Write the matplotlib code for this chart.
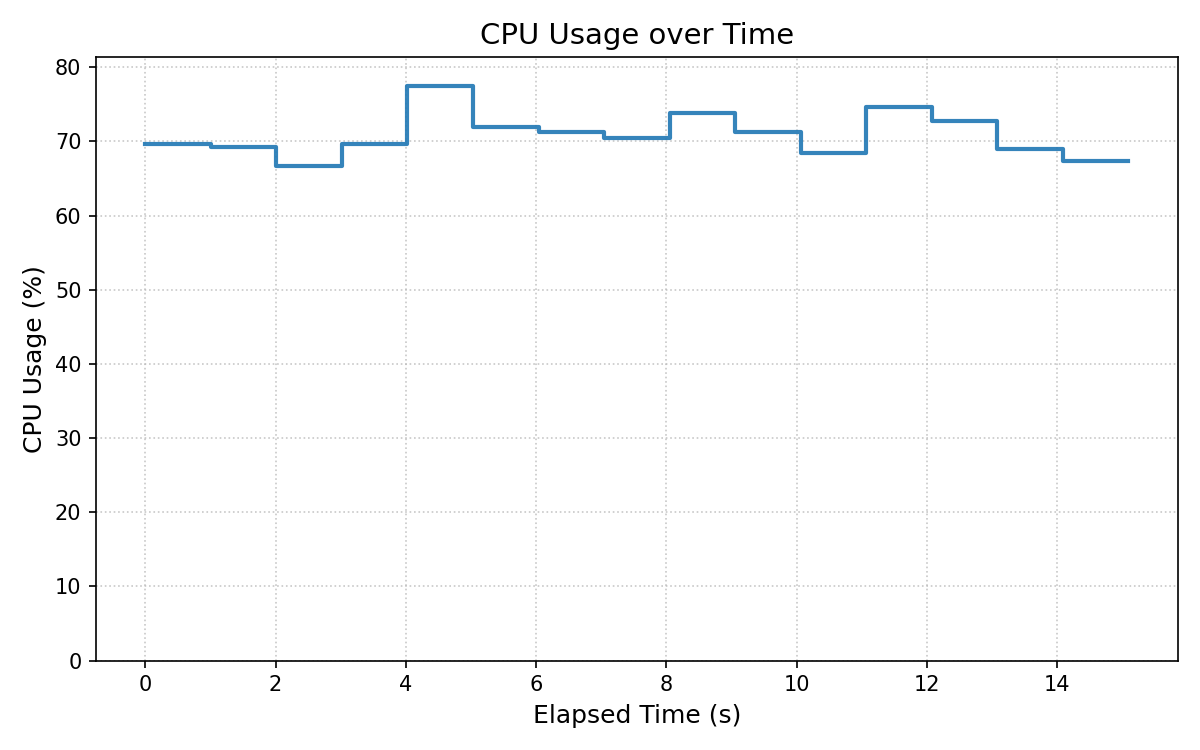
import matplotlib
matplotlib.use("Agg")
import matplotlib.pyplot as plt

# elapsed time (s) and cpu usage (%)
elapsed = [0.0, 1.01, 2.01, 3.02, 4.02, 5.03, 6.04, 7.04, 8.05,
           9.06, 10.06, 11.07, 12.07, 13.08, 14.09, 15.09]
cpu = [69.7, 69.3, 66.7, 69.7, 77.5, 72.0, 71.2, 70.4, 73.8,
       71.3, 68.4, 74.7, 72.8, 69.0, 67.3, 67.3]


def plot_cpu(t, usage):
    """Step plot of CPU usage."""
    fig, ax = plt.subplots(figsize=(8, 5), dpi=150)
    ax.step(t, usage, where='post', color='#1f77b4', alpha=0.9, linewidth=2.0)
    ax.set_ylim(0, max(usage) * 1.05)
    ax.set_title("CPU Usage over Time", fontsize=14)
    ax.set_xlabel("Elapsed Time (s)", fontsize=12)
    ax.set_ylabel("CPU Usage (%)", fontsize=12)
    ax.grid(True, linestyle=':', color='#bbbbbb', linewidth=0.8, alpha=0.8)
    fig.tight_layout()
    fig.savefig("out.png", dpi=150)


if __name__ == "__main__":
    plot_cpu(elapsed, cpu)
